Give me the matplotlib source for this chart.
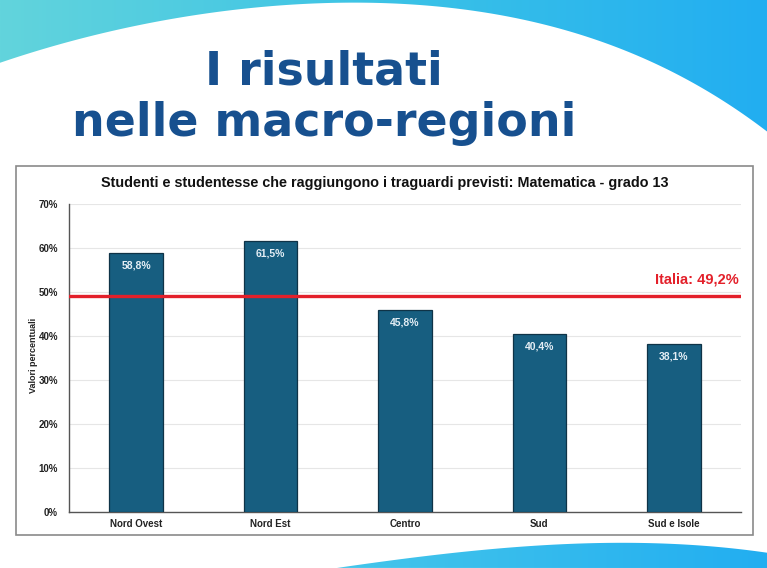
import numpy as np
import matplotlib.pyplot as plt
from matplotlib.patches import Polygon, Rectangle
from matplotlib.colors import LinearSegmentedColormap
from matplotlib import font_manager

regions = ["Nord Ovest", "Nord Est", "Centro", "Sud", "Sud e Isole"]
values = [58.8, 61.5, 45.8, 40.4, 38.1]
italia = 49.2
yticks = [0, 10, 20, 30, 40, 50, 60, 70]

W, H = 767, 568

names = {f.name for f in font_manager.fontManager.ttflist}
narrow = "Liberation Sans Narrow" if "Liberation Sans Narrow" in names else "Liberation Sans"


def fmt(v):
    return f"{v:.1f}".replace(".", ",") + "%"


def smooth_edge(px, py, x0, x1, n=300, deg=4):
    # smooth curve through the traced edge points of the slide decoration
    coef = np.polyfit(px, py, deg)
    xs = np.linspace(x0, x1, n)
    return xs, np.polyval(coef, xs)


fig = plt.figure(figsize=(W / 100, H / 100), dpi=100)
fig.patch.set_facecolor("white")

# --- slide background (decorative curves) ---
bg = fig.add_axes([0, 0, 1, 1], zorder=0)
bg.set_xlim(0, W)
bg.set_ylim(H, 0)
bg.axis("off")

top_x = [0, 100, 200, 300, 400, 500, 600, 667, 733, 767]
top_y = [63, 33, 15, 5, 3, 13, 45, 68, 105, 133]
xs, ys = smooth_edge(top_x, top_y, 0, W, deg=5)
top_poly = Polygon(np.column_stack([np.r_[xs, W, 0], np.r_[ys, 0, 0]]),
                   closed=True, facecolor="none", edgecolor="none")
bg.add_patch(top_poly)
grad_top = LinearSegmentedColormap.from_list("t", ["#62d4dc", "#3cc3e6", "#22aef1"])
im = bg.imshow(np.linspace(0, 1, 256)[None, :], cmap=grad_top, aspect="auto",
               extent=[0, W, 140, 0], zorder=1)
im.set_clip_path(top_poly)

bot_x = [337, 433, 533, 633, 733, 767]
bot_y = [568, 555, 546, 543, 548, 553]
xs2, ys2 = smooth_edge(bot_x, bot_y, 337, W, deg=3)
bot_poly = Polygon(np.column_stack([np.r_[xs2, W], np.r_[ys2, H]]),
                   closed=True, facecolor="none", edgecolor="none")
bg.add_patch(bot_poly)
grad_bot = LinearSegmentedColormap.from_list("b", ["#45c6ea", "#22aef1"])
im2 = bg.imshow(np.linspace(0, 1, 256)[None, :], cmap=grad_bot, aspect="auto",
                extent=[337, W, H, 540], zorder=1)
im2.set_clip_path(bot_poly)

# slide title
bg.text(324, 72, "I risultati", ha="center", va="center", fontsize=33,
        fontweight="bold", color="#17508f", family="DejaVu Sans", zorder=3)
bg.text(324, 124, "nelle macro-regioni", ha="center", va="center", fontsize=33,
        fontweight="bold", color="#17508f", family="DejaVu Sans", zorder=3)

# chart frame
bg.add_patch(Rectangle((16, 166), 737, 369, facecolor="white",
                       edgecolor="#8a8a8a", lw=1.2, zorder=2))
bg.text(385, 183, "Studenti e studentesse che raggiungono i traguardi previsti: Matematica - grado 13",
        ha="center", va="center", fontsize=10.4, fontweight="bold",
        family="Liberation Sans", color="#111111", zorder=3)
bg.text(33, 355, "Valori percentuali", ha="center", va="center", rotation=90,
        fontsize=6.5, fontweight="bold", family="Liberation Sans",
        color="#222222", zorder=3)

# --- bar chart ---
ax = fig.add_axes([69 / W, (H - 512) / H, 672 / W, 308 / H], zorder=2)
ax.patch.set_alpha(0)
x = np.arange(len(regions))
ax.bar(x, values, width=0.4, color="#175e80", edgecolor="#0f3347", lw=0.9, zorder=3)
for xi, v in zip(x, values):
    ax.text(xi, v - 2.7, fmt(v), ha="center", va="center", fontsize=7.5,
            fontweight="bold", color="#e4eef5", family="Liberation Sans", zorder=4)

ax.axhline(italia, color="#e3202a", lw=2.4, zorder=5)
ax.text(4.48, italia + 3.6, "Italia: " + fmt(italia), ha="right", va="center",
        fontsize=10.5, fontweight="bold", color="#e3202a", family="Liberation Sans")

ax.set_xlim(-0.5, 4.5)
ax.set_ylim(0, 70)
ax.set_yticks(yticks)
ax.set_yticklabels([f"{t}%" for t in yticks], fontsize=7, fontweight="bold",
                   family=narrow, color="#222222")
ax.set_xticks(x)
ax.set_xticklabels(regions, fontsize=7, fontweight="bold", family=narrow, color="#222222")
ax.tick_params(length=0, pad=8)
ax.tick_params(axis="x", pad=5)
ax.grid(axis="y", color="#e6e6e6", lw=0.8, zorder=0)
for s in ["top", "right"]:
    ax.spines[s].set_visible(False)
for s in ["left", "bottom"]:
    ax.spines[s].set_color("#555555")
    ax.spines[s].set_linewidth(1.0)

fig.savefig("out.png", dpi=100)
